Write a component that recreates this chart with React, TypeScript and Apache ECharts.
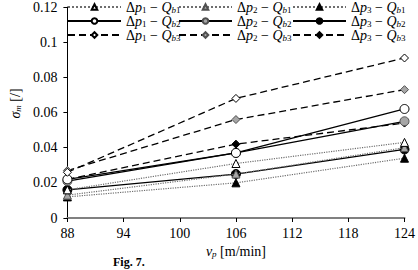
import React, { useEffect, useRef } from "react";
import * as echarts from "echarts";

const speeds = [88, 106, 124];
const yTicks = [0, 0.02, 0.04, 0.06, 0.08, 0.1, 0.12];

const p1Qb1 = [0.016, 0.031, 0.043];
const p2Qb1 = [0.013, 0.025, 0.040];
const p3Qb1 = [0.012, 0.020, 0.034];
const p1Qb2 = [0.022, 0.037, 0.062];
const p2Qb2 = [0.021, 0.037, 0.055];
const p3Qb2 = [0.016, 0.025, 0.039];
const p1Qb3 = [0.026, 0.068, 0.091];
const p2Qb3 = [0.027, 0.056, 0.073];
const p3Qb3 = [0.022, 0.042, 0.054];

const FONT = "'Liberation Serif', 'DejaVu Serif', serif";

type Def = { p: number; q: number; values: number[] };
const defs: Def[] = [
  { p: 1, q: 1, values: p1Qb1 },
  { p: 1, q: 2, values: p1Qb2 },
  { p: 1, q: 3, values: p1Qb3 },
  { p: 2, q: 1, values: p2Qb1 },
  { p: 2, q: 2, values: p2Qb2 },
  { p: 2, q: 3, values: p2Qb3 },
  { p: 3, q: 1, values: p3Qb1 },
  { p: 3, q: 2, values: p3Qb2 },
  { p: 3, q: 3, values: p3Qb3 },
];

const nameOf = (p: number, q: number) => `Δp${p} − Qb${q}`;

const fills = ["#ffffff", "#a6a6a6", "#000000"];
const borders = ["#000000", "#505050", "#000000"];
const symbols = ["triangle", "circle", "diamond"];
const symSizes = [8, 9, 8];

export default function App() {
  const ref = useRef<HTMLDivElement>(null);
  useEffect(() => {
    if (!ref.current) return;
    const chart = echarts.init(ref.current, undefined, { renderer: "svg" });

    const series = defs.map((d) => {
      const lineType = d.q === 1 ? "dotted" : d.q === 2 ? "solid" : [7, 4];
      const lineColor = d.q === 1 ? "#6e6e6e" : "#000000";
      return {
        name: nameOf(d.p, d.q),
        type: "line",
        data: speeds.map((s, i) => [s, d.values[i]]),
        symbol: symbols[d.q - 1],
        symbolSize: symSizes[d.q - 1],
        showSymbol: true,
        lineStyle: { type: lineType, color: lineColor, width: d.q === 1 ? 1.2 : 1.3 },
        itemStyle: { color: fills[d.p - 1], borderColor: borders[d.p - 1], borderWidth: 1 },
        emphasis: { disabled: true },
        z: 2 + (3 - d.p),
      };
    });

    const rich = {
      d: { fontFamily: FONT, fontSize: 14, color: "#000", lineHeight: 14 },
      i: { fontFamily: FONT, fontSize: 14, fontStyle: "italic", color: "#000", lineHeight: 14 },
      m: { fontFamily: FONT, fontSize: 14, color: "#000", lineHeight: 14 },
      s: { fontFamily: FONT, fontSize: 9, color: "#000", lineHeight: 14, verticalAlign: "bottom", padding: [5, 0, 0, 0] },
      si: { fontFamily: FONT, fontSize: 9, fontStyle: "italic", color: "#000", lineHeight: 14, verticalAlign: "bottom", padding: [5, 0, 0, 0] },
    };

    const legendCol = (p: number, left: number) => ({
      orient: "vertical",
      left,
      top: 0,
      itemWidth: 53,
      itemHeight: 7,
      itemGap: 0,
      padding: 0,
      data: [1, 2, 3].map((q) => nameOf(p, q)),
      formatter: (name: string) => {
        const m = name.match(/Δp(\d) − Qb(\d)/);
        if (!m) return name;
        return `{d|Δ}{i|p}{s|${m[1]}}{m| − }{i|Q}{si|b}{s|${m[2]}}`;
      },
      textStyle: { fontFamily: FONT, fontSize: 14, color: "#000", rich },
      selectedMode: false,
    });

    chart.setOption({
      animation: false,
      backgroundColor: "#ffffff",
      textStyle: { fontFamily: FONT },
      legend: [legendCol(1, 67), legendCol(2, 178), legendCol(3, 292)],
      grid: { left: 55, right: 10, top: 6, bottom: 52, containLabel: false },
      xAxis: {
        type: "value",
        min: 88,
        max: 124,
        interval: 6,
        name: "{i|v}{s|p} [m/min]",
        nameLocation: "middle",
        nameGap: 24,
        nameTextStyle: {
          fontFamily: FONT,
          fontSize: 14,
          color: "#000",
          rich: {
            i: { fontFamily: FONT, fontSize: 14, fontStyle: "italic", color: "#000", lineHeight: 14 },
            s: { fontFamily: FONT, fontSize: 9, fontStyle: "italic", color: "#000", lineHeight: 14, verticalAlign: "bottom", padding: [5, 0, 0, 0] },
          },
        },
        axisLine: { show: true, lineStyle: { color: "#808080", width: 2 } },
        axisTick: { show: true, length: 4, inside: false, lineStyle: { color: "#000" } },
        axisLabel: { fontFamily: FONT, fontSize: 14, color: "#000", margin: 8 },
        splitLine: { show: false },
      },
      yAxis: {
        type: "value",
        min: 0,
        max: 0.12,
        interval: 0.02,
        name: "{i|σ}{si|m} [/]",
        nameLocation: "middle",
        nameGap: 38,
        nameRotate: 90,
        nameTextStyle: {
          fontFamily: FONT,
          fontSize: 14,
          color: "#000",
          padding: [0, 0, 0, 18],
          rich: {
            i: { fontFamily: FONT, fontSize: 14, fontStyle: "italic", color: "#000", lineHeight: 14 },
            si: { fontFamily: FONT, fontSize: 9, fontStyle: "italic", color: "#000", lineHeight: 14, verticalAlign: "bottom", padding: [5, 0, 0, 0] },
          },
        },
        axisLine: { show: true, lineStyle: { color: "#000", width: 1 } },
        axisTick: { show: true, length: 4, inside: false, lineStyle: { color: "#000" } },
        axisLabel: {
          fontFamily: FONT,
          fontSize: 14,
          color: "#000",
          margin: 10,
          formatter: (v: number) => {
            const t = yTicks.find((x) => Math.abs(x - v) < 1e-9);
            return String(t !== undefined ? +t.toFixed(2) : v);
          },
        },
        splitLine: { show: false },
      },
      graphic: [
        {
          type: "text",
          left: 113,
          top: 256,
          style: { text: "Fig. 7.", font: `bold 12px ${FONT}`, fill: "#000" },
        },
      ],
      series,
    });
    return () => chart.dispose();
  }, []);
  return (
    <div
      ref={ref}
      style={{ position: "fixed", left: 0, top: 0, width: 418, height: 270, background: "#fff" }}
    />
  );
}
